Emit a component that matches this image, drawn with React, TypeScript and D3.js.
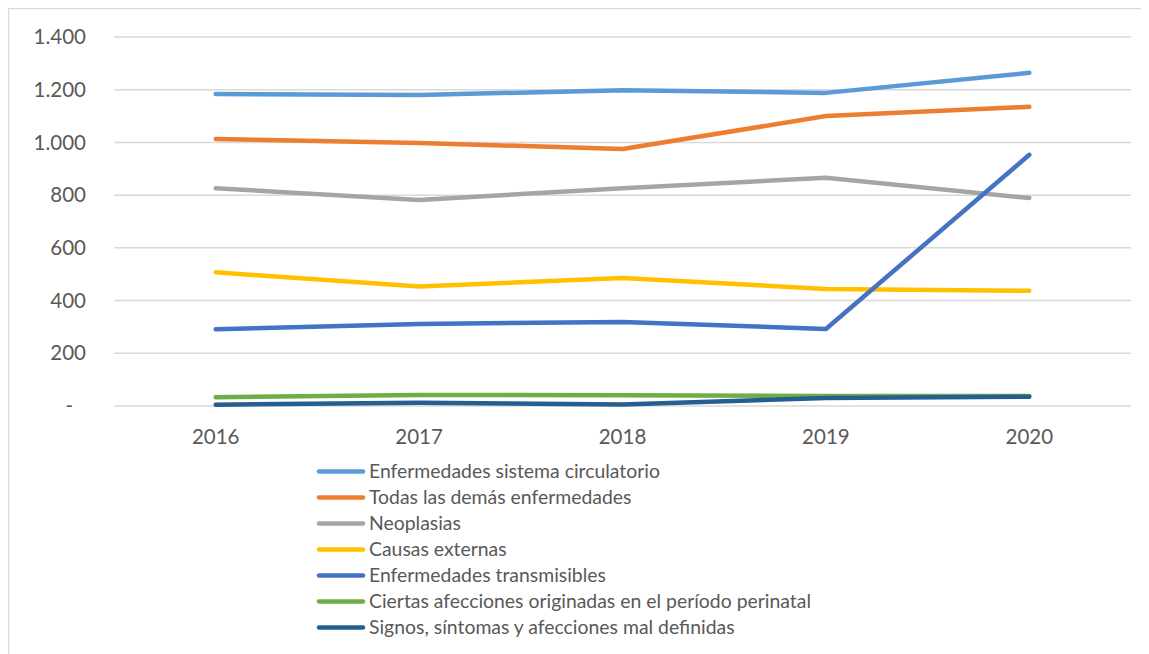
import React, { useEffect, useRef } from "react";
import * as d3 from "d3";

const years = ["2016", "2017", "2018", "2019", "2020"];
const seriesNames = [
  "Enfermedades sistema circulatorio",
  "Todas las demás enfermedades",
  "Neoplasias",
  "Causas externas",
  "Enfermedades transmisibles",
  "Ciertas afecciones originadas en el período perinatal",
  "Signos, síntomas y afecciones mal definidas",
];
const seriesColors = ["#5B9BD5", "#ED7D31", "#A5A5A5", "#FFC000", "#4472C4", "#70AD47", "#255E91"];
const circulatorio = [1184, 1180, 1198, 1188, 1264];
const demas = [1013, 998, 975, 1100, 1135];
const neoplasias = [826, 782, 826, 866, 789];
const externas = [507, 453, 486, 444, 437];
const transmisibles = [291, 311, 319, 292, 953];
const perinatal = [33, 42, 41, 38, 38];
const signos = [5, 12, 6, 30, 35];
const yTicks = [0, 200, 400, 600, 800, 1000, 1200, 1400];

const allSeries = [circulatorio, demas, neoplasias, externas, transmisibles, perinatal, signos];

export default function App() {
  const svgRef = useRef<SVGSVGElement>(null);
  const width = 1141;
  const height = 646;

  useEffect(() => {
    const svg = d3.select(svgRef.current);
    svg.selectAll("*").remove();

    // svg sits at page (8,8) because of body margin
    const left = 106;
    const right = 1123;
    const top = 29;
    const bottom = 398;
    const font = "Lato, sans-serif";
    const tickSize = 20.5;
    const legendSize = 19.4;

    const x = d3.scaleBand<string>().domain(years).range([left, right]);
    const y = d3.scaleLinear().domain([0, 1400]).range([bottom, top]);

    svg
      .append("rect")
      .attr("x", 0.5)
      .attr("y", 0.5)
      .attr("width", 1200)
      .attr("height", 700)
      .attr("fill", "white")
      .attr("stroke", "#d9d9d9")
      .attr("stroke-width", 1.5);

    const grid = svg.append("g");
    grid
      .selectAll("line")
      .data(yTicks)
      .join("line")
      .attr("x1", left)
      .attr("x2", right)
      .attr("y1", (d) => y(d))
      .attr("y2", (d) => y(d))
      .attr("stroke", "#d9d9d9")
      .attr("stroke-width", 1.5);

    grid
      .selectAll("text")
      .data(yTicks)
      .join("text")
      .attr("x", (d) => (d === 0 ? 65 : 78))
      .attr("y", (d) => y(d))
      .attr("dy", "0.35em")
      .attr("text-anchor", "end")
      .attr("font-family", font)
      .attr("font-size", tickSize)
      .attr("fill", "#595959")
      .text((d) => (d === 0 ? "-" : d3.format(",")(d).replace(/,/g, ".")));

    svg
      .append("g")
      .selectAll("text")
      .data(years)
      .join("text")
      .attr("x", (d) => x(d)! + x.bandwidth() / 2)
      .attr("y", 429)
      .attr("dy", "0.35em")
      .attr("text-anchor", "middle")
      .attr("font-family", font)
      .attr("font-size", tickSize)
      .attr("fill", "#595959")
      .text((d) => d);

    const lineGen = d3
      .line<number>()
      .x((_, i) => x(years[i])! + x.bandwidth() / 2)
      .y((d) => y(d));

    svg
      .append("g")
      .selectAll("path")
      .data(allSeries)
      .join("path")
      .attr("d", (d) => lineGen(d))
      .attr("fill", "none")
      .attr("stroke", (_, i) => seriesColors[i])
      .attr("stroke-width", 4.5)
      .attr("stroke-linecap", "round")
      .attr("stroke-linejoin", "round");

    const legend = svg
      .append("g")
      .selectAll("g")
      .data(seriesNames)
      .join("g")
      .attr("transform", (_, i) => `translate(0, ${463.5 + i * 26})`);

    legend
      .append("line")
      .attr("x1", 311)
      .attr("x2", 355)
      .attr("stroke", (_, i) => seriesColors[i])
      .attr("stroke-width", 4.5)
      .attr("stroke-linecap", "round");

    legend
      .append("text")
      .attr("x", 361)
      .attr("dy", "0.35em")
      .attr("font-family", font)
      .attr("font-size", legendSize)
      .attr("fill", "#595959")
      .text((d) => d);
  }, []);

  return <svg ref={svgRef} width={width} height={height} style={{ display: "block" }} />;
}
